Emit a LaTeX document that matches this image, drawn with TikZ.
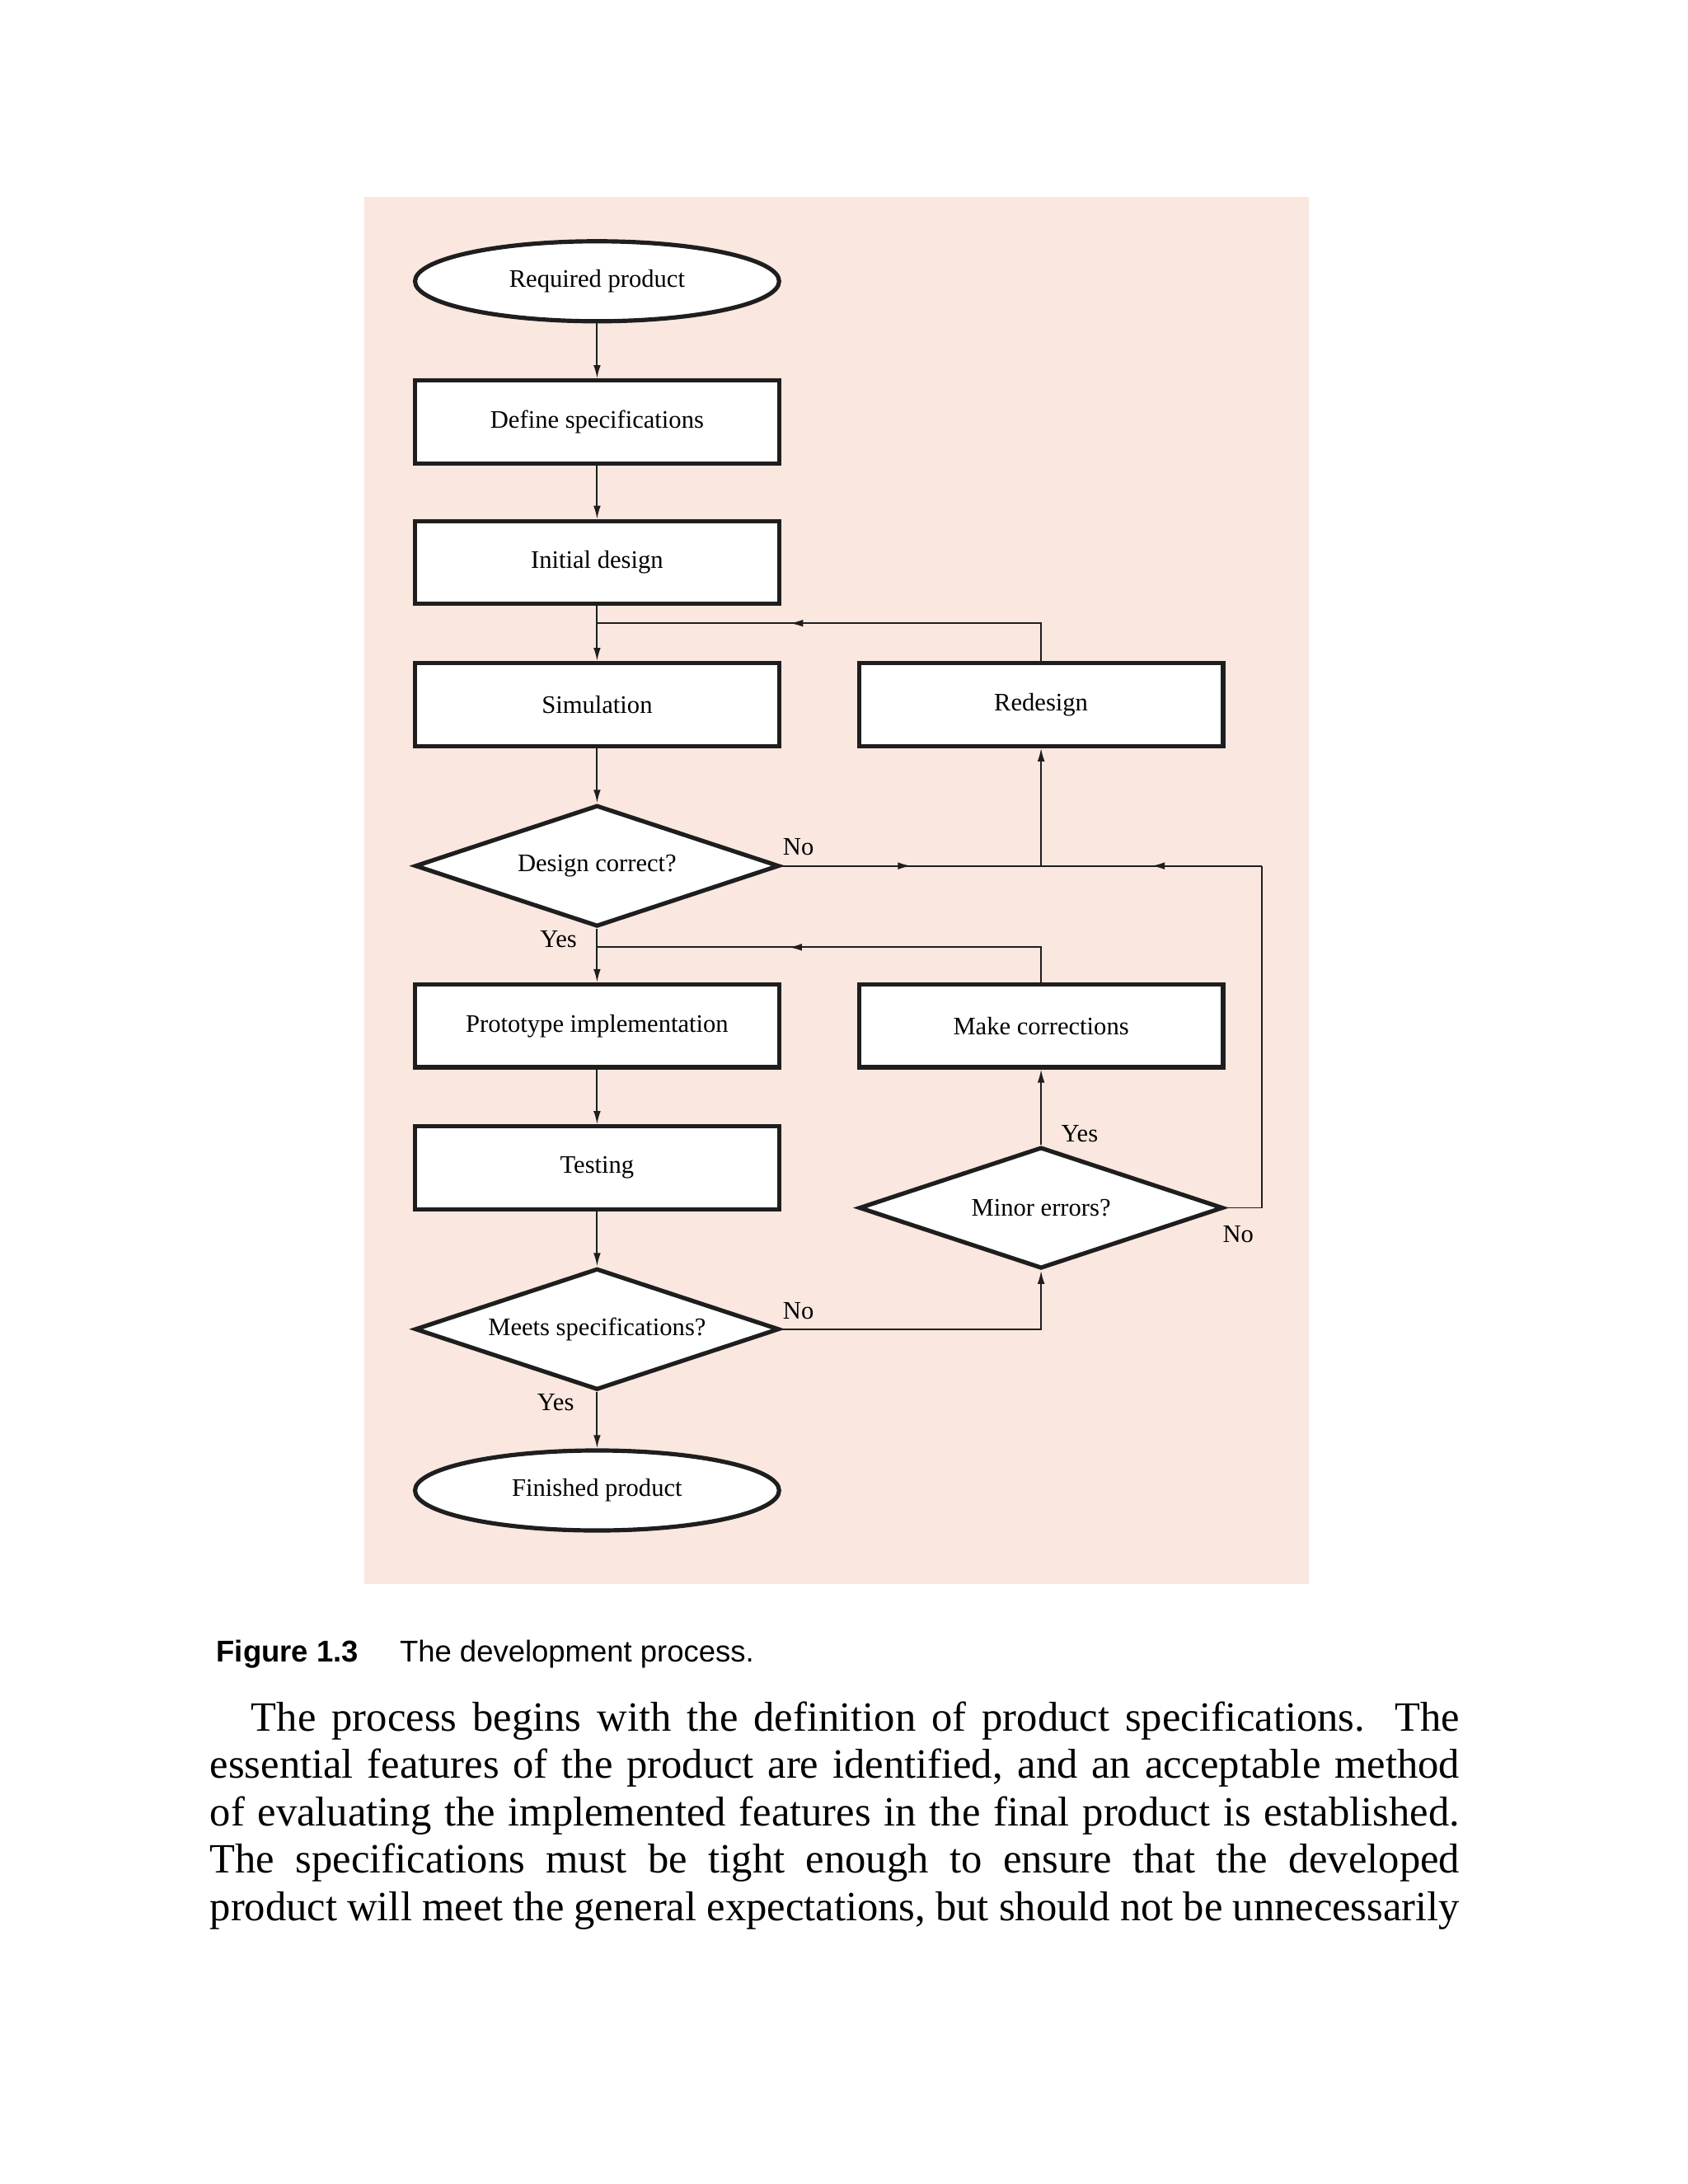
\documentclass[tikz,border=0pt]{standalone}
\usepackage{fontspec}
\setmainfont{Liberation Serif}
\newfontfamily\capfont{Liberation Sans}
\usetikzlibrary{shapes.geometric,arrows.meta,positioning,calc,decorations.markings}
\definecolor{bgpink}{RGB}{250,231,223}
\definecolor{linegray}{RGB}{30,30,30}

\begin{document}
\begin{tikzpicture}[
    x=0.025cm, y=-0.025cm,
    stage/.style={rectangle, draw=linegray, line width=2.2pt, fill=white, minimum width=6.6cm, minimum height=1.5cm, font=\fontsize{13}{15}\selectfont},
    terminal/.style={stage, ellipse, minimum height=1.45cm},
    decision/.style={stage, diamond, aspect=3, inner sep=0pt, minimum height=2.2cm},
    flow/.style={draw=linegray, line width=0.8pt, -{Latex[length=2.4mm,width=1.3mm]}},
    link/.style={draw=linegray, line width=0.8pt},
    midarrow/.style={link, postaction={decorate}, decoration={markings, mark=at position #1 with {\arrow{Latex[length=2.4mm,width=1.3mm]}}}},
    tag/.style={font=\fontsize{13}{15}\selectfont}
]
% background panel
\fill[bgpink] (264,143) rectangle (949,1149);

% main column
\node[terminal] (req) at (433,204) {Required product};
\node[stage] (spec) at (433,306) {Define specifications};
\node[stage] (init) at (433,408) {Initial design};
\node[stage] (sim) at (433,511) {Simulation};
\node[decision] (dcor) at (433,628) {Design correct?};
\node[stage] (proto) at (433,744) {Prototype implementation};
\node[stage] (test) at (433,847) {Testing};
\node[decision] (meets) at (433,964) {Meets specifications?};
\node[terminal] (fin) at (433,1081) {Finished product};

% right column
\node[stage] (redes) at (755,511) {Redesign};
\node[stage] (corr) at (755,744) {Make corrections};
\node[decision] (minor) at (755,876) {Minor errors?};

% junctions
\coordinate (j1) at (433,452);
\coordinate (j2) at (755,628);
\coordinate (j3) at (915,628);
\coordinate (j4) at (433,687);
\coordinate (j5) at (915,876);

% straight flow
\foreach \a/\b in {req/spec, spec/init, sim/dcor, proto/test, test/meets, meets/fin, minor/corr}
    \draw[flow] (\a) -- (\b);
\draw[link] (init) -- (j1);
\draw[flow] (j1) -- (sim);
\draw[link] (dcor.south) -- (j4);
\draw[flow] (j4) -- (proto);

% loops back
\draw[midarrow=0.6] (redes.north) |- (j1);
\draw[midarrow=0.6] (corr.north) |- (j4);
\draw[midarrow=0.5] (dcor.east) -- (j2);
\draw[flow] (j2) -- (redes.south);
\draw[link] (minor.east) -- (j5) -- (j3);
\draw[midarrow=0.5] (j3) -- (j2);
\draw[flow] (meets.east) -| (minor.south);

% labels
\node[tag] (n1) at (579,614) {No};
\node[tag] (y1) at (405,681) {Yes};
\node[tag] (y2) at (783,822) {Yes};
\node[tag] (n2) at (898,895) {No};
\node[tag] (n3) at (579,951) {No};
\node[tag] (y3) at (403,1017) {Yes};

% caption and body text
\node[anchor=west, font=\capfont\fontsize{15.5}{18}\selectfont] (cap) at (152,1200) {\textbf{Figure 1.3}\hspace{0.75cm}The development process.};
\node[anchor=north west, inner sep=0pt] (body) at (152,1234)
{\parbox[t]{22.65cm}{\fontsize{21.5}{24.4}\selectfont\hyphenpenalty=10000\exhyphenpenalty=10000\emergencystretch=3em\parfillskip=0pt\parindent=0.75cm\indent The process begins with the definition of product specifications. The essential features of the product are identified, and an acceptable method of evaluating the implemented features in the final product is established. The specifications must be tight enough to ensure that the developed product will meet the general expectations, but should not be unnecessarily\par}};

% page frame
\pgfresetboundingbox
\useasboundingbox (0,0) rectangle (1224,1584);
\end{tikzpicture}
\end{document}
